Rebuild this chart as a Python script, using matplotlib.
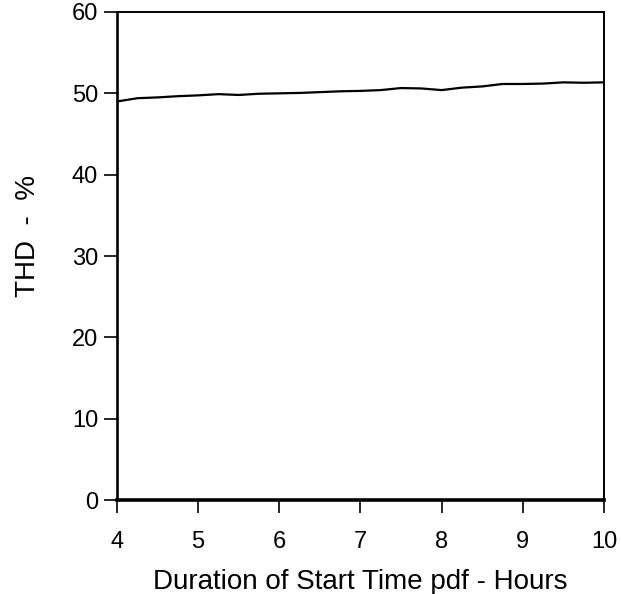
import matplotlib
matplotlib.use("Agg")
import matplotlib.pyplot as plt

plt.rcParams['font.family'] = ['Liberation Sans', 'DejaVu Sans']

duration_hours = [4.0, 4.25, 4.5, 4.75, 5.0, 5.25, 5.5, 5.75, 6.0, 6.25, 6.5, 6.75,
                  7.0, 7.25, 7.5, 7.75, 8.0, 8.25, 8.5, 8.75, 9.0, 9.25, 9.5, 9.75, 10.0]
thd_percent = [49.0, 49.4, 49.5, 49.65, 49.75, 49.9, 49.8, 49.95, 50.0, 50.05, 50.15, 50.25,
               50.3, 50.4, 50.65, 50.6, 50.4, 50.7, 50.85, 51.15, 51.15, 51.2, 51.35, 51.3, 51.35]
x_ticks = [4, 5, 6, 7, 8, 9, 10]
y_ticks = [0, 10, 20, 30, 40, 50, 60]

fig = plt.figure(figsize=(6.21, 5.94), dpi=100)
ax = fig.add_axes([0.1884, 0.1582, 0.7842, 0.8216])
ax.plot(duration_hours, thd_percent, color='black', linewidth=1.6)
ax.set_xlim(4, 10)
ax.set_ylim(0, 60)
ax.set_xticks(x_ticks)
ax.set_yticks(y_ticks)
ax.tick_params(axis='both', direction='out', length=9.5, width=1.2, labelsize=17)
ax.tick_params(axis='x', pad=12.5)
ax.tick_params(axis='y', pad=4)
for s in ['top', 'right']:
    ax.spines[s].set_linewidth(1.4)
ax.spines['left'].set_linewidth(1.9)
ax.spines['bottom'].set_linewidth(2.6)
ax.set_xlabel('Duration of Start Time pdf - Hours', fontsize=20)
ax.set_ylabel('THD  -  %', fontsize=20)
ax.xaxis.set_label_coords(0.5, -0.141)
ax.yaxis.set_label_coords(-0.183, 0.541)
ax.yaxis.label.set_verticalalignment('center')
fig.savefig('out.png', dpi=100)
